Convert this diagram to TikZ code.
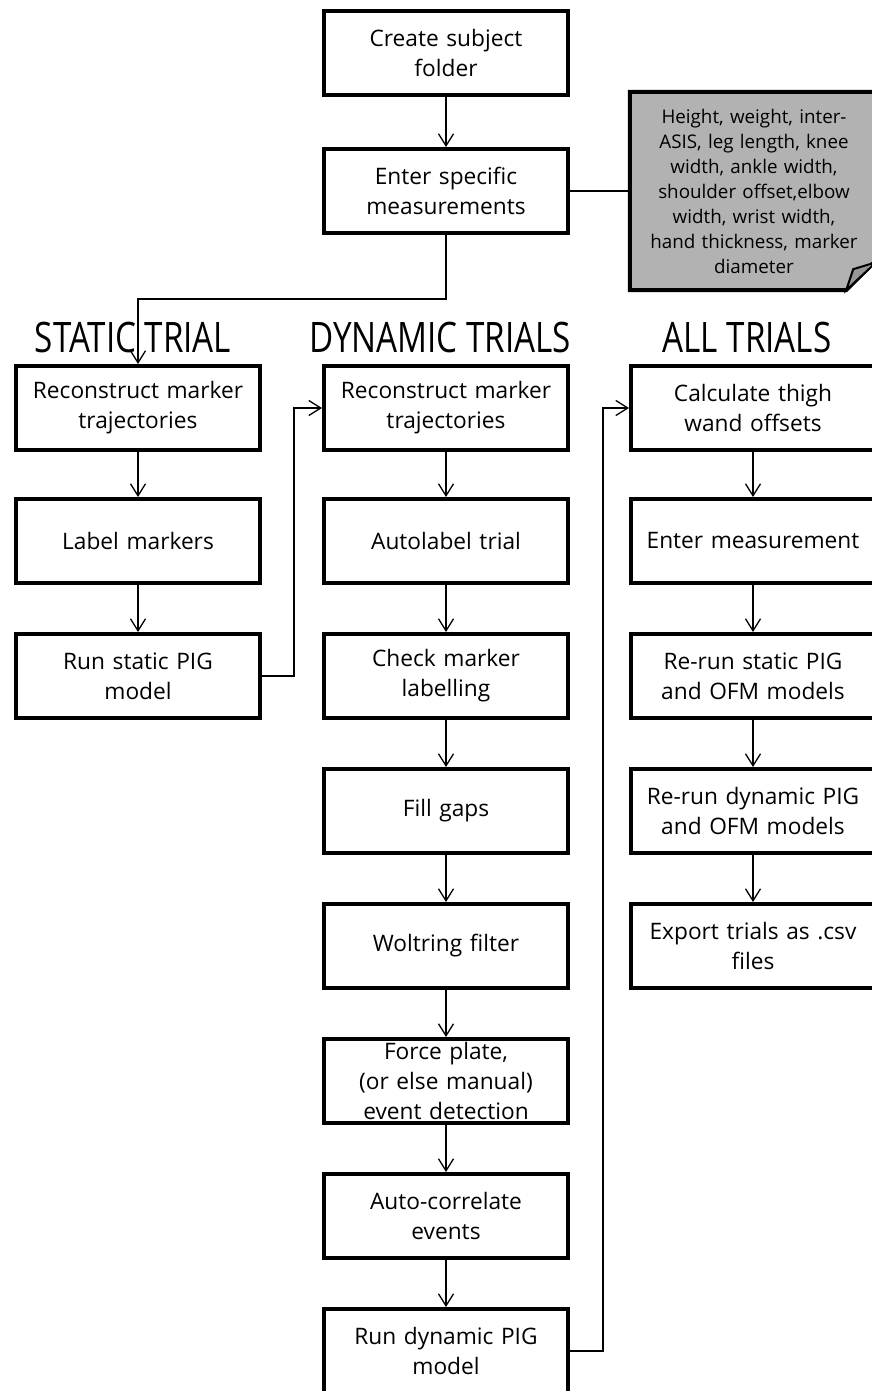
\documentclass[tikz,border=0pt]{standalone}
\usepackage{fontspec}
\setmainfont{Open Sans}
\usetikzlibrary{arrows.meta,calc}
\definecolor{notegray}{RGB}{178,178,178}
\definecolor{flapgray}{RGB}{150,150,150}
\newcommand{\bodyfont}{\fontsize{22.7}{30}\selectfont}
\newcommand{\notefont}{\fontsize{18.8}{25}\selectfont}
\newcommand{\headfont}{\fontsize{42}{50}\selectfont}
\newcommand{\headtxt}[1]{\scalebox{0.79}[1]{#1}}
\tikzset{
  procbox/.style={draw, line width=4pt, minimum width=244pt, minimum height=84pt,
    inner sep=0pt, text width=240pt, align=center, font=\bodyfont},
  notebox/.style={minimum width=248pt, minimum height=198pt, inner sep=0pt,
    text width=240pt, align=center, font=\notefont},
  arr/.style={line width=1.3pt, -{Straight Barb[length=12pt,width=15pt,line width=1.3pt]}},
  conn/.style={line width=1.3pt},
  heading/.style={anchor=base, inner sep=0pt, font=\headfont}
}
\begin{document}
\begin{tikzpicture}[x=1pt,y=-1pt]
\useasboundingbox (0,0) rectangle (871,1391);
% top
\node[procbox] (create) at (446,53) {Create subject\\folder};
\node[procbox] (enter) at (446,191) {Enter specific\\measurements};
% note (shape first, then text on top)
\coordinate (noteC) at (754,191);
\path (noteC) node[notebox] (noteframe) {};
\draw[line width=4pt, fill=notegray, line join=miter]
  (noteframe.north west) -- (noteframe.north east) -- ($(noteframe.south east)+(0,-32)$)
  -- ($(noteframe.south east)+(-32,0)$) -- (noteframe.south west) -- cycle;
\draw[line width=2pt, fill=flapgray, line join=miter]
  ($(noteframe.south east)+(-32,0)$) -- ($(noteframe.south east)+(-25,-21)$) -- ($(noteframe.south east)+(-2,-28)$) -- cycle;
\node[notebox] (note) at (noteC)
  {Height, weight, inter-\\ASIS, leg length, knee\\width, ankle width,\\shoulder offset,elbow\\width, wrist width,\\hand thickness, marker\\diameter};
% headings
\node[heading] (hs) at (133,352) {\headtxt{STATIC TRIAL}};
\node[heading] (hd) at (440,352) {\headtxt{DYNAMIC TRIALS}};
\node[heading] (ha) at (747,352) {\headtxt{ALL TRIALS}};
% static column
\node[procbox] (sRec) at (138,408) {Reconstruct marker\\trajectories};
\node[procbox] (sLab) at (138,541) {Label markers};
\node[procbox] (sPig) at (138,676) {Run static PIG\\model};
% dynamic column
\node[procbox] (dRec) at (446,408) {Reconstruct marker\\trajectories};
\node[procbox] (dAuto) at (446,541) {Autolabel trial};
\node[procbox] (dCheck) at (446,676) {Check marker\\labelling};
\node[procbox] (dFill) at (446,811) {Fill gaps};
\node[procbox] (dWolt) at (446,946) {Woltring filter};
\node[procbox] (dForce) at (446,1081) {Force plate,\\(or else manual)\\event detection};
\node[procbox] (dCorr) at (446,1216) {Auto-correlate\\events};
\node[procbox] (dPig) at (446,1351) {Run dynamic PIG\\model};
% all column
\node[procbox] (aCalc) at (753,408) {Calculate thigh\\wand offsets};
\node[procbox] (aEnter) at (753,541) {Enter measurement};
\node[procbox] (aStat) at (753,676) {Re-run static PIG\\and OFM models};
\node[procbox] (aDyn) at (753,811) {Re-run dynamic PIG\\and OFM models};
\node[procbox] (aExp) at (753,946) {Export trials as .csv\\files};
% connectors
\draw[arr] (create) -- (enter);
\draw[conn] (enter.east) -- (note.west);
\draw[arr] (enter.south) -- ++(0,64) -| (sRec.north);
\draw[arr] (sRec) -- (sLab);
\draw[arr] (sLab) -- (sPig);
\draw[arr] (sPig.east) -- ++(32,0) |- (dRec.west);
\draw[arr] (dRec) -- (dAuto);
\draw[arr] (dAuto) -- (dCheck);
\draw[arr] (dCheck) -- (dFill);
\draw[arr] (dFill) -- (dWolt);
\draw[arr] (dWolt) -- (dForce);
\draw[arr] (dForce) -- (dCorr);
\draw[arr] (dCorr) -- (dPig);
\draw[arr] (dPig.east) -- ++(33,0) |- (aCalc.west);
\draw[arr] (aCalc) -- (aEnter);
\draw[arr] (aEnter) -- (aStat);
\draw[arr] (aStat) -- (aDyn);
\draw[arr] (aDyn) -- (aExp);
\end{tikzpicture}
\end{document}
